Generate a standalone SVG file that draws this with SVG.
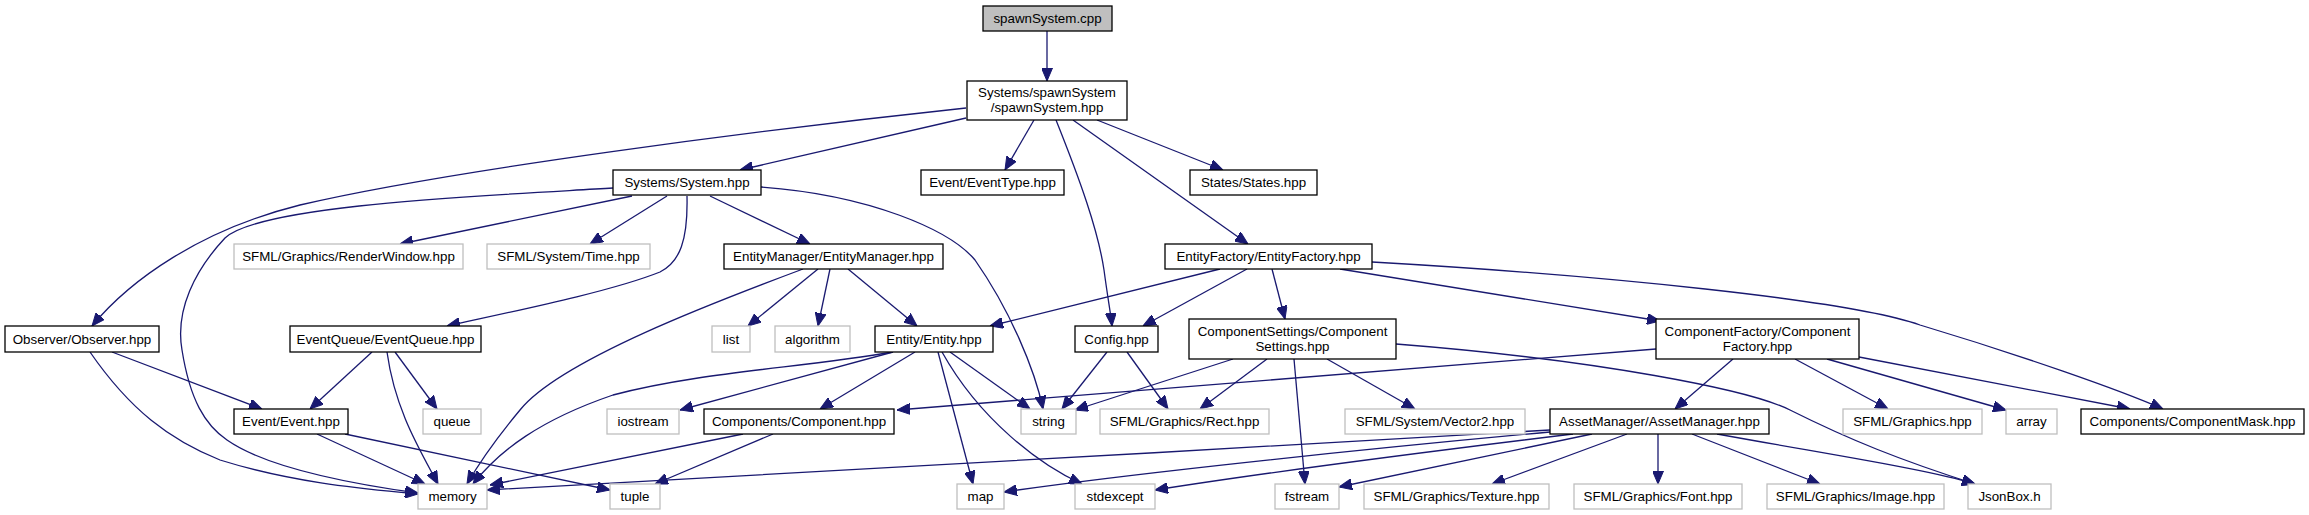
<svg xmlns="http://www.w3.org/2000/svg" width="2309" height="515" viewBox="0 0 2309 515">
<style>
.n rect{fill:#fff;stroke:#000;stroke-width:1.3}
.x rect{fill:#fff;stroke:#bfbfbf;stroke-width:1.3}
.r rect{fill:#bfbfbf}
text{font-family:"Liberation Sans",Arial,sans-serif;font-size:13.33px;fill:#000;text-anchor:middle}
.e path{fill:none;stroke:#191970;stroke-width:1.3;marker-end:url(#a)}
</style>
<defs>
<marker id="a" viewBox="0 0 13 11" refX="13" refY="5.5" markerWidth="13" markerHeight="11" markerUnits="userSpaceOnUse" orient="auto">
<path d="M0,0 L13,5.5 L0,11 z" fill="#191970" stroke="#191970"/>
</marker>
</defs>
<rect width="2309" height="515" fill="#fff"/>
<g class="e" id="edges">
<path d="M1047,31 L1047,81"/>
<path d="M966,118 L740,170"/>
<path d="M966,108 C760,130 450,170 300,205 C200,230 130,280 92,326"/>
<path d="M1034,120 L1005,170"/>
<path d="M1056,120 C1080,180 1098,230 1104,270 C1108,300 1111,315 1112,326"/>
<path d="M1073,120 L1248,244"/>
<path d="M1097,120 L1223,170"/>
<path d="M632,196 L400,244"/>
<path d="M667,196 L590,244"/>
<path d="M687,196 C688,240 680,262 660,272 C610,292 510,312 447,326"/>
<path d="M710,196 L810,244"/>
<path d="M761,187 C870,195 950,230 975,260 C1010,310 1035,370 1043,409"/>
<path d="M613,188 C480,196 260,205 225,238 C195,270 175,310 182,350 C190,400 205,425 227,440 C270,470 360,485 418,493"/>
<path d="M90,352 C130,410 170,440 220,460 C300,485 380,490 418,494"/>
<path d="M112,352 L262,409"/>
<path d="M372,352 L310,409"/>
<path d="M395,352 L437,409"/>
<path d="M387,352 C395,410 420,450 438,484"/>
<path d="M317,434 L425,484"/>
<path d="M345,434 L610,490"/>
<path d="M818,269 L748,326"/>
<path d="M830,269 L818,326"/>
<path d="M848,269 L917,326"/>
<path d="M803,269 C720,300 560,360 520,410 C495,440 478,465 467,484"/>
<path d="M893,352 C800,368 700,372 613,395 C540,420 500,450 473,484"/>
<path d="M893,352 L680,410"/>
<path d="M915,352 L820,409"/>
<path d="M950,352 L1030,409"/>
<path d="M938,352 L973,484"/>
<path d="M942,352 C980,420 1040,465 1082,484"/>
<path d="M1107,352 L1062,409"/>
<path d="M1127,352 L1168,409"/>
<path d="M1220,269 L990,326"/>
<path d="M1247,269 L1143,326"/>
<path d="M1272,269 L1285,319"/>
<path d="M1340,269 L1660,321"/>
<path d="M1372,262 C1600,275 1850,300 1920,325 C2020,355 2120,390 2163,409"/>
<path d="M1233,359 L1075,410"/>
<path d="M1267,359 L1200,409"/>
<path d="M1294,359 L1305,484"/>
<path d="M1327,359 L1415,409"/>
<path d="M1396,344 C1600,360 1750,390 1790,410 C1850,440 1900,460 1975,484"/>
<path d="M1656,349 L897,410"/>
<path d="M1733,359 L1675,409"/>
<path d="M1795,359 L1888,409"/>
<path d="M1827,359 L2006,410"/>
<path d="M1859,357 L2130,409"/>
<path d="M1550,430 C1200,452 800,470 487,490"/>
<path d="M1550,432 C1300,455 1100,478 1004,492"/>
<path d="M1573,434 C1400,455 1250,475 1155,490"/>
<path d="M1592,434 L1339,487"/>
<path d="M1627,434 L1492,484"/>
<path d="M1658,434 L1658,484"/>
<path d="M1692,434 L1820,484"/>
<path d="M1717,434 C1850,458 1930,470 1975,484"/>
<path d="M743,434 L490,485"/>
<path d="M773,434 L655,484"/>
</g>
<g id="n_cpp" class="n r"><rect x="983" y="6" width="129" height="25"/><text x="1047.5" y="23">spawnSystem.cpp</text></g>
<g id="n_spawnhpp" class="n"><rect x="967" y="81" width="160" height="39"/><text x="1047" y="96.5">Systems/spawnSystem</text><text x="1047" y="111.5">/spawnSystem.hpp</text></g>
<g id="n_eventtype" class="n"><rect x="921" y="170" width="143" height="25"/><text x="992.5" y="187">Event/EventType.hpp</text></g>
<g id="n_states" class="n"><rect x="1190" y="170" width="127" height="25"/><text x="1253.5" y="187">States/States.hpp</text></g>
<g id="n_system" class="n"><rect x="613" y="170" width="148" height="25"/><text x="687" y="187">Systems/System.hpp</text></g>
<g id="n_entityfactory" class="n"><rect x="1165" y="244" width="207" height="25"/><text x="1268.5" y="261">EntityFactory/EntityFactory.hpp</text></g>
<g id="n_renderwindow" class="x"><rect x="234" y="244" width="229" height="25"/><text x="348.5" y="261">SFML/Graphics/RenderWindow.hpp</text></g>
<g id="n_time" class="x"><rect x="487" y="244" width="163" height="25"/><text x="568.5" y="261">SFML/System/Time.hpp</text></g>
<g id="n_entitymanager" class="n"><rect x="724" y="244" width="219" height="25"/><text x="833.5" y="261">EntityManager/EntityManager.hpp</text></g>
<g id="n_observer" class="n"><rect x="5" y="326" width="154" height="26"/><text x="82" y="343.5">Observer/Observer.hpp</text></g>
<g id="n_eventqueue" class="n"><rect x="290" y="326" width="191" height="26"/><text x="385.5" y="343.5">EventQueue/EventQueue.hpp</text></g>
<g id="n_list" class="x"><rect x="712" y="326" width="38" height="26"/><text x="731" y="343.5">list</text></g>
<g id="n_algorithm" class="x"><rect x="775" y="326" width="75" height="26"/><text x="812.5" y="343.5">algorithm</text></g>
<g id="n_entity" class="n"><rect x="875" y="326" width="118" height="26"/><text x="934" y="343.5">Entity/Entity.hpp</text></g>
<g id="n_config" class="n"><rect x="1075" y="326" width="83" height="26"/><text x="1116.5" y="343.5">Config.hpp</text></g>
<g id="n_compsettings" class="n"><rect x="1189" y="319" width="207" height="40"/><text x="1292.5" y="335.5">ComponentSettings/Component</text><text x="1292.5" y="350.5">Settings.hpp</text></g>
<g id="n_compfactory" class="n"><rect x="1656" y="319" width="203" height="40"/><text x="1757.5" y="335.5">ComponentFactory/Component</text><text x="1757.5" y="350.5">Factory.hpp</text></g>
<g id="n_event" class="n"><rect x="234" y="409" width="114" height="25"/><text x="291" y="426">Event/Event.hpp</text></g>
<g id="n_queue" class="x"><rect x="423" y="409" width="58" height="25"/><text x="452" y="426">queue</text></g>
<g id="n_iostream" class="x"><rect x="607" y="409" width="72" height="25"/><text x="643" y="426">iostream</text></g>
<g id="n_component" class="n"><rect x="704" y="409" width="190" height="25"/><text x="799" y="426">Components/Component.hpp</text></g>
<g id="n_string" class="x"><rect x="1021" y="409" width="55" height="25"/><text x="1048.5" y="426">string</text></g>
<g id="n_rect" class="x"><rect x="1100" y="409" width="169" height="25"/><text x="1184.5" y="426">SFML/Graphics/Rect.hpp</text></g>
<g id="n_vector2" class="x"><rect x="1345" y="409" width="180" height="25"/><text x="1435" y="426">SFML/System/Vector2.hpp</text></g>
<g id="n_assetmanager" class="n"><rect x="1550" y="409" width="219" height="25"/><text x="1659.5" y="426">AssetManager/AssetManager.hpp</text></g>
<g id="n_graphics" class="x"><rect x="1843" y="409" width="139" height="25"/><text x="1912.5" y="426">SFML/Graphics.hpp</text></g>
<g id="n_array" class="x"><rect x="2006" y="409" width="51" height="25"/><text x="2031.5" y="426">array</text></g>
<g id="n_compmask" class="n"><rect x="2081" y="409" width="223" height="25"/><text x="2192.5" y="426">Components/ComponentMask.hpp</text></g>
<g id="n_memory" class="x"><rect x="418" y="484" width="69" height="25"/><text x="452.5" y="501">memory</text></g>
<g id="n_tuple" class="x"><rect x="610" y="484" width="50" height="25"/><text x="635" y="501">tuple</text></g>
<g id="n_map" class="x"><rect x="957" y="484" width="47" height="25"/><text x="980.5" y="501">map</text></g>
<g id="n_stdexcept" class="x"><rect x="1075" y="484" width="80" height="25"/><text x="1115" y="501">stdexcept</text></g>
<g id="n_fstream" class="x"><rect x="1275" y="484" width="64" height="25"/><text x="1307" y="501">fstream</text></g>
<g id="n_texture" class="x"><rect x="1364" y="484" width="185" height="25"/><text x="1456.5" y="501">SFML/Graphics/Texture.hpp</text></g>
<g id="n_font" class="x"><rect x="1574" y="484" width="168" height="25"/><text x="1658" y="501">SFML/Graphics/Font.hpp</text></g>
<g id="n_image" class="x"><rect x="1767" y="484" width="177" height="25"/><text x="1855.5" y="501">SFML/Graphics/Image.hpp</text></g>
<g id="n_jsonbox" class="x"><rect x="1968" y="484" width="83" height="25"/><text x="2009.5" y="501">JsonBox.h</text></g>
</svg>
